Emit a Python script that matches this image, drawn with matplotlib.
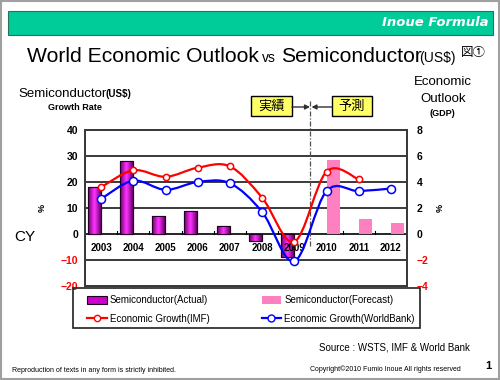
import numpy as np
import matplotlib
matplotlib.use('Agg')
import matplotlib.pyplot as plt
from matplotlib.patches import Rectangle, Patch, PathPatch
from matplotlib.path import Path
from matplotlib.lines import Line2D

years = ['2003', '2004', '2005', '2006', '2007', '2008', '2009', '2010', '2011', '2012']
semi_actual = [18.2, 28.1, 6.8, 8.8, 3.2, -2.8, -9.0, np.nan, np.nan, np.nan]
semi_forecast = [np.nan, np.nan, np.nan, np.nan, np.nan, np.nan, np.nan, 28.6, 5.6, 4.2]
gdp_imf = [3.6, 4.9, 4.4, 5.1, 5.2, 2.8, -0.6, 4.8, 4.2, np.nan]
gdp_wb = [2.7, 4.1, 3.4, 4.0, 3.9, 1.7, -2.1, 3.3, 3.3, 3.5]
left_ticks = [-20, -10, 0, 10, 20, 30, 40]
right_ticks = [-4, -2, 0, 2, 4, 6, 8]

W, H = 500, 380
fig = plt.figure(figsize=(5, 3.8), dpi=100)
fig.patch.set_facecolor('white')

def fx(px):
    return px / W

def fy(py):
    return 1 - py / H

JP = ['Noto Sans CJK JP', 'DejaVu Sans']
SANS = ['Liberation Sans', 'DejaVu Sans']

# outer frame
fig.add_artist(Rectangle((0.002, 0.002), 0.996, 0.996, transform=fig.transFigure,
                         fill=False, edgecolor='#A0A0A0', lw=1.5))
# green banner
fig.add_artist(Rectangle((fx(8), fy(35)), fx(485), 24 / H, transform=fig.transFigure,
                         facecolor='#00CC99', edgecolor='#2F6F5A', lw=0.8))
fig.text(fx(489), fy(23), 'Inoue Formula', color='white', fontsize=9.5,
         fontweight='bold', style='italic', ha='right', va='center', family=['DejaVu Sans'])

# title
fig.text(fx(27), fy(62), 'World Economic Outlook', fontsize=15.2, ha='left',
         va='baseline', family=SANS)
fig.text(fx(262), fy(62), 'vs', fontsize=10, ha='left', va='baseline', family=SANS)
fig.text(fx(281), fy(62), 'Semiconductor', fontsize=15.2, ha='left', va='baseline', family=SANS)
fig.text(fx(419), fy(62), '(US$)', fontsize=10, ha='left', va='baseline', family=SANS)
fig.text(fx(461), fy(56), '図①', fontsize=9, ha='left', va='baseline', family=JP)

# axis titles
fig.text(fx(18), fy(97), 'Semiconductor', fontsize=9.5, ha='left', va='baseline', family=SANS)
fig.text(fx(106), fy(97), '(US$)', fontsize=7, fontweight='bold', ha='left',
         va='baseline', family=SANS)
fig.text(fx(75), fy(107), 'Growth Rate', fontsize=6.5, fontweight='bold', ha='center',
         va='center', family=SANS)
fig.text(fx(443), fy(82), 'Economic', fontsize=9.5, ha='center', va='center', family=SANS)
fig.text(fx(443), fy(99), 'Outlook', fontsize=9.5, ha='center', va='center', family=SANS)
fig.text(fx(442), fy(113), '(GDP)', fontsize=6.5, fontweight='bold', ha='center',
         va='center', family=SANS)
fig.text(fx(25), fy(237), 'CY', fontsize=11, ha='center', va='center', family=SANS)
fig.text(fx(42), fy(208), '%', fontsize=6.5, fontweight='bold', rotation=90,
         ha='center', va='center', family=SANS)
fig.text(fx(440), fy(208), '%', fontsize=6.5, fontweight='bold', rotation=90,
         ha='center', va='center', family=SANS)

# main axes
ax = fig.add_axes([fx(85), fy(286), fx(322), 156 / H])
ax2 = ax.twinx()
x = np.arange(len(years))
ax.set_xlim(-0.5, len(years) - 0.5)
ax.set_ylim(left_ticks[0], left_ticks[-1])
ax2.set_ylim(right_ticks[0], right_ticks[-1])

for sp in list(ax.spines.values()) + list(ax2.spines.values()):
    sp.set_color('#3A3A3A')
    sp.set_linewidth(1.4)

for v in left_ticks[1:-1]:
    ax.axhline(v, color='#3A3A3A' if v != 0 else 'black', lw=1.4 if v != 0 else 1.2, zorder=1)

bw = 0.4
off = 0.21
act = ax.bar(x - off, semi_actual, width=bw, facecolor='#CC00CC', edgecolor='#200020',
             lw=0.8, zorder=2)
# gradient fill for actual bars
grad = np.linspace(0, 1, 64)
grad = 1 - np.abs(grad - 0.5) * 2
cmap = matplotlib.colors.LinearSegmentedColormap.from_list('mg', ['#6A006A', '#FF33FF'])
for b in act.patches:
    if np.isnan(b.get_height()):
        continue
    x0, y0 = b.get_x(), b.get_y()
    w, h = b.get_width(), b.get_height()
    im = ax.imshow(grad[np.newaxis, :], aspect='auto', cmap=cmap,
                   extent=(x0, x0 + w, min(y0, y0 + h), max(y0, y0 + h)), zorder=2.1)
    im.set_clip_path(b)
    ax.add_patch(Rectangle((x0, y0), w, h, fill=False, edgecolor='#200020', lw=0.8, zorder=2.2))
fc = ax.bar(x + off, semi_forecast, width=bw, color='#FF80C0', zorder=2)
ax.set_xlim(-0.5, len(years) - 0.5)
ax.set_ylim(left_ticks[0], left_ticks[-1])

# category boundary ticks on zero line
for bnd in np.arange(0.5, len(years) - 0.5, 1.0):
    ax.plot([bnd, bnd], [0, 1.3], color='black', lw=0.8, zorder=2)

for i, yr in enumerate(years):
    ax.text(i, -5.4, yr, ha='center', va='center', fontsize=7, fontweight='bold',
            family=SANS, zorder=3)

ax.set_xticks([])
ax.set_yticks(left_ticks)
ax.set_yticklabels([('\u2212%d' % -v) if v < 0 else str(v) for v in left_ticks],
                   family=SANS, fontsize=7.5, fontweight='bold')
for t, v in zip(ax.get_yticklabels(), left_ticks):
    t.set_color('red' if v < 0 else 'black')
ax.tick_params(axis='y', length=0, pad=5)

ax2.set_yticks(right_ticks)
ax2.set_yticklabels([('\u2212%d' % -v) if v < 0 else str(v) for v in right_ticks],
                    family=SANS, fontsize=7.5, fontweight='bold')
for t, v in zip(ax2.get_yticklabels(), right_ticks):
    t.set_color('red' if v < 0 else 'black')
ax2.tick_params(axis='y', length=0, pad=7)

# divider line actual/forecast
ax.plot([6.5, 6.5], [-4.5, 51.5], color='#505050', lw=0.9, ls=(0, (4, 1.5, 1, 1.5)),
        clip_on=False, zorder=2.5)


def smooth_path(xs, ys):
    pts = np.column_stack([xs, ys])
    n = len(pts)
    verts = [pts[0]]
    codes = [Path.MOVETO]
    for i in range(n - 1):
        p0 = pts[i - 1] if i > 0 else pts[i]
        p1 = pts[i]
        p2 = pts[i + 1]
        p3 = pts[i + 2] if i + 2 < n else pts[i + 1]
        c1 = p1 + (p2 - p0) / 6.0
        c2 = p2 - (p3 - p1) / 6.0
        verts += [c1, c2, p2]
        codes += [Path.CURVE4] * 3
    return Path(verts, codes)


for series, col, ms in [(gdp_imf, '#FF0000', 4.5), (gdp_wb, '#0000FF', 5.8)]:
    s = np.array(series, dtype=float)
    m = ~np.isnan(s)
    ax2.add_patch(PathPatch(smooth_path(x[m], s[m]), fill=False, edgecolor=col, lw=1.6,
                            zorder=3))
    ax2.plot(x[m], s[m], 'o', ls='none', mfc='white', mec=col, mew=1.1, ms=ms, zorder=4)

# boxes 実績 / 予測
for (x0, x1, label) in [(251, 292, '実績'), (332, 372, '予測')]:
    fig.add_artist(Rectangle((fx(x0), fy(116)), fx(x1 - x0), 20 / H, transform=fig.transFigure,
                             facecolor='#FFFF66', edgecolor='black', lw=1.0))
    fig.text(fx((x0 + x1) / 2), fy(106.5), label, fontsize=9.5, ha='center', va='center',
             family=JP)
fig.add_artist(matplotlib.patches.FancyArrowPatch((fx(292), fy(107)), (fx(310), fy(107)),
               transform=fig.transFigure, arrowstyle='-|>', mutation_scale=7,
               shrinkA=0, shrinkB=0, color='#303030', lw=1.0))
fig.add_artist(matplotlib.patches.FancyArrowPatch((fx(332), fy(107)), (fx(311.5), fy(107)),
               transform=fig.transFigure, arrowstyle='-|>', mutation_scale=7,
               shrinkA=0, shrinkB=0, color='#303030', lw=1.0))

# legend (frame drawn separately)
fig.add_artist(Rectangle((fx(73), fy(328)), fx(347), 40 / H, transform=fig.transFigure,
                         facecolor='none', edgecolor='#202020', lw=1.2))
h_act = Patch(facecolor='#CC00CC', edgecolor='#200020', lw=0.8)
h_fc = Patch(facecolor='#FF80C0', edgecolor='none')
h_imf = Line2D([], [], color='#FF0000', lw=1.6, marker='o', ms=4.5, mfc='white', mec='#FF0000')
h_wb = Line2D([], [], color='#0000FF', lw=1.6, marker='o', ms=5, mfc='white', mec='#0000FF')
leg = fig.legend([h_act, h_imf, h_fc, h_wb],
                 ['Semiconductor(Actual)', 'Economic Growth(IMF)',
                  'Semiconductor(Forecast)', 'Economic Growth(WorldBank)'],
                 ncol=2, loc='lower left', bbox_to_anchor=(fx(83), fy(328), fx(336), 38 / H),
                 mode='expand', borderaxespad=0, frameon=False, borderpad=0.45,
                 handlelength=2.0, handleheight=0.8, handletextpad=0.3, labelspacing=0.85,
                 prop={'family': SANS, 'size': 7})

fig.text(fx(319), fy(347), 'Source : WSTS, IMF & World Bank', fontsize=7, ha='left',
         va='center', family=SANS)
fig.text(fx(12), fy(370), 'Reproduction of texts in any form is strictly inhibited.',
         fontsize=5, ha='left', va='center', family=SANS)
fig.text(fx(310), fy(369), 'Copyright\u00a92010 Fumio Inoue All rights reserved',
         fontsize=5, ha='left', va='center', family=SANS)
fig.text(fx(488), fy(366), '1', fontsize=8, fontweight='bold', ha='center', va='center',
         family=SANS)

fig.savefig('out.png', dpi=100, facecolor='white')
